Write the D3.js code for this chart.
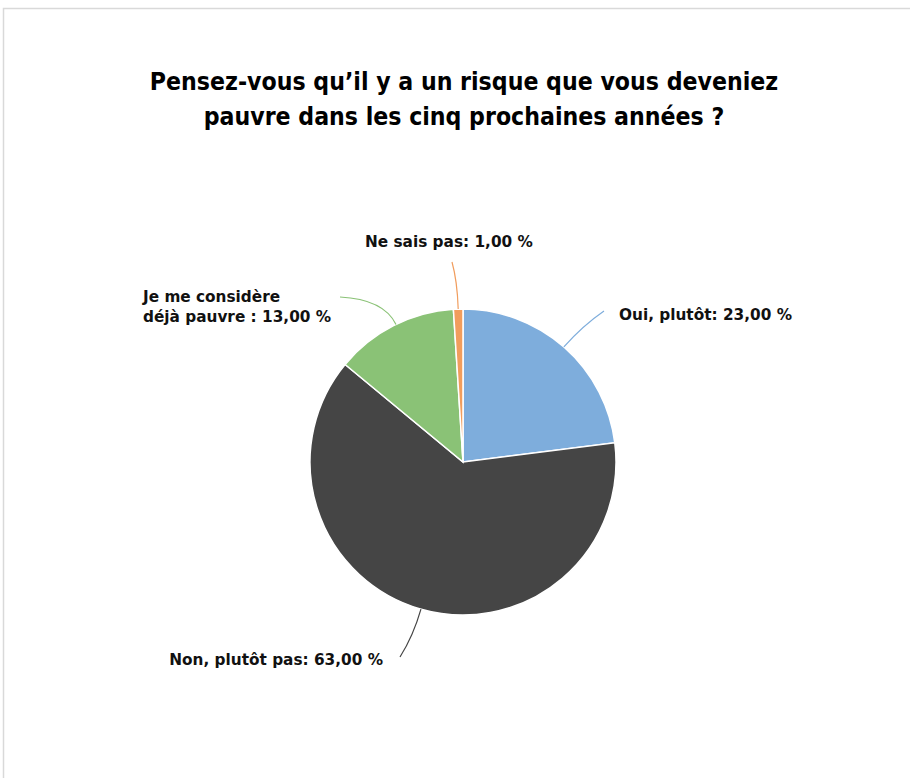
<html>
<head>
  <script src="https://d3js.org/d3.v7.min.js"></script>
  <style>
    body { margin: 0; background: #fff; }
    text { font-family: "DejaVu Sans", Verdana, sans-serif; }
  </style>
</head>
<body>
<script>
// data
var categories = ["Oui, plutôt", "Non, plutôt pas", "Je me considère déjà pauvre", "Ne sais pas"];
var values = [23, 63, 13, 1];
var colors = ["#7eaddc", "#454545", "#8ac276", "#f19d5d"];
var labelLines = [
  ["Oui, plutôt: 23,00 %"],
  ["Non, plutôt pas: 63,00 %"],
  ["Je me considère", "déjà pauvre : 13,00 %"],
  ["Ne sais pas: 1,00 %"]
];

var W = 910, H = 778;
var svg = d3.select("body").append("svg").attr("width", W).attr("height", H);

// frame
svg.append("rect").attr("x", 3.5).attr("y", 8.5).attr("width", W).attr("height", H)
  .attr("fill", "none").attr("stroke", "#d9d9d9").attr("stroke-width", 1.5);

// title
["Pensez-vous qu\u2019il y a un risque que vous deveniez",
 "pauvre dans les cinq prochaines ann\u00e9es ?"].forEach(function (t, k) {
  svg.append("text").attr("x", 464).attr("y", 90 + k * 35)
    .attr("text-anchor", "middle")
    .style("font-family", "'DejaVu Sans Condensed', 'DejaVu Sans', sans-serif")
    .style("font-stretch", "condensed")
    .style("font-weight", "bold").style("font-size", "24.6px").style("fill", "#000")
    .text(t);
});

var cx = 463, cy = 462, r = 153;
var g = svg.append("g").attr("transform", "translate(" + cx + "," + cy + ")");

var pie = d3.pie().sort(null).value(function (d) { return d; });
var arcs = pie(values);
var arc = d3.arc().innerRadius(0).outerRadius(r);

g.selectAll("path.slice").data(arcs).enter().append("path")
  .attr("class", "slice")
  .attr("d", arc)
  .attr("fill", function (d, i) { return colors[i]; })
  .attr("stroke", "#fff").attr("stroke-width", 1.5);

// leader lines: start on the rim, bend out to the label
var labelPos = [
  { x: 619, y: 320, anchor: "start", rim: 0.72, end: [604, 311] },
  { x: 383, y: 665, anchor: "end", rim: 3.42, end: [400, 657] },
  { x: 143, y: 302, anchor: "start", rim: 5.83, end: [340, 297] },
  { x: 365, y: 247, anchor: "start", rim: null, end: [452, 262] }
];

arcs.forEach(function (d, i) {
  var p = labelPos[i];
  var a = p.rim === null ? (d.startAngle + d.endAngle) / 2 : p.rim;
  var sx = cx + Math.sin(a) * r, sy = cy - Math.cos(a) * r;
  var ex = p.end[0], ey = p.end[1];
  var mx = sx + Math.sin(a) * 28, my = sy - Math.cos(a) * 28;
  svg.append("path")
    .attr("d", "M" + sx + "," + sy + " Q" + mx + "," + my + " " + ex + "," + ey)
    .attr("fill", "none").attr("stroke", colors[i]).attr("stroke-width", 1.2);
  labelLines[i].forEach(function (t, k) {
    svg.append("text").attr("x", p.x).attr("y", p.y + k * 20)
      .attr("text-anchor", p.anchor)
      .style("font-weight", "bold").style("font-size", "15.3px").style("fill", "#111")
      .text(t);
  });
});
</script>
</body>
</html>
